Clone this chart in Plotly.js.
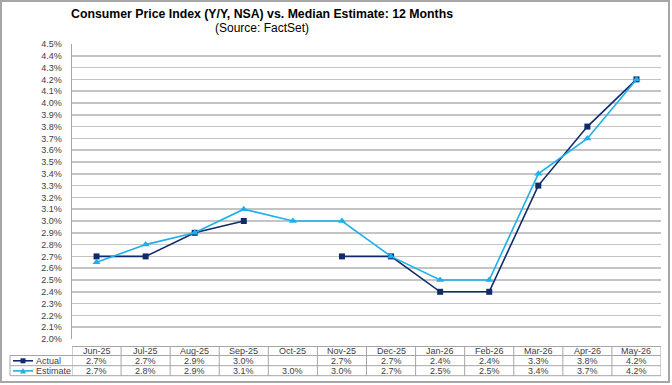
<!DOCTYPE html>
<html>
<head>
<meta charset="utf-8">
<script src="https://cdn.plot.ly/plotly-3.0.1.min.js"></script>
<style>
html,body{margin:0;padding:0;background:#fff;}
#chart{width:672px;height:385px;}
</style>
</head>
<body>
<div id="chart"></div>
<script>
// ---- data ----
const months = ["Jun-25","Jul-25","Aug-25","Sep-25","Oct-25","Nov-25","Dec-25","Jan-26","Feb-26","Mar-26","Apr-26","May-26"];
const actual = [2.7, 2.7, 2.9, 3.0, null, 2.7, 2.7, 2.4, 2.4, 3.3, 3.8, 4.2];
const estimate = [2.65, 2.8, 2.9, 3.1, 3.0, 3.0, 2.7, 2.5, 2.5, 3.4, 3.7, 4.2];
const actualTable = ["2.7%","2.7%","2.9%","3.0%","","2.7%","2.7%","2.4%","2.4%","3.3%","3.8%","4.2%"];
const estimateTable = ["2.7%","2.8%","2.9%","3.1%","3.0%","3.0%","2.7%","2.5%","2.5%","3.4%","3.7%","4.2%"];
const yTicks = [2.0,2.1,2.2,2.3,2.4,2.5,2.6,2.7,2.8,2.9,3.0,3.1,3.2,3.3,3.4,3.5,3.6,3.7,3.8,3.9,4.0,4.1,4.2,4.3,4.4,4.5];
const seriesNames = ["Actual","Estimate"];
const titleText = "Consumer Price Index (Y/Y, NSA) vs. Median Estimate: 12 Months";
const subtitleText = "(Source: FactSet)";

// ---- style ----
const navy = "#102a6b";
const cyan = "#1cb0ea";
const tblLine = "#a6a6a6";
const txt = "#404040";
const font = "Liberation Sans, Arial, sans-serif";

// plot area pixel geometry: left 72, right 661, top 44, bottom 339
const L = 72, R = 661, T = 44, B = 339;
const px = x => (x - L) / (R - L);
const py = y => (B - y) / (B - T);

const traces = [
  {x: months, y: actual, name: seriesNames[0], type: "scatter", mode: "lines+markers",
   connectgaps: false, line: {color: navy, width: 1.6},
   marker: {symbol: "square", size: 6, color: navy}},
  {x: months, y: estimate, name: seriesNames[1], type: "scatter", mode: "lines+markers",
   line: {color: cyan, width: 1.6},
   marker: {symbol: "triangle-up", size: 7, color: cyan}}
];

const shapes = [];
const annotations = [];

// outer border
shapes.push({type: "rect", xref: "paper", yref: "paper", x0: px(1), x1: px(669), y0: py(1), y1: py(382),
  line: {color: "#a6a6a6", width: 2}, layer: "below"});

// table geometry
const tTop = py(346.5), r1 = py(355.5), r2 = py(365.7), tBot = py(375.7);
const legL = px(10);
shapes.push({type: "line", xref: "x", yref: "paper", x0: -0.5, x1: months.length - 0.5, y0: tTop, y1: tTop, line: {color: tblLine, width: 1}});
[r1, r2, tBot].forEach(yy => {
  shapes.push({type: "line", xref: "paper", yref: "paper", x0: legL, x1: 1, y0: yy, y1: yy, line: {color: tblLine, width: 1}});
});
for (let i = 0; i <= months.length; i++) {
  shapes.push({type: "line", xref: "x", yref: "paper", x0: i - 0.5, x1: i - 0.5, y0: tTop, y1: tBot, line: {color: tblLine, width: 1}});
}
shapes.push({type: "line", xref: "paper", yref: "paper", x0: legL, x1: legL, y0: r1, y1: tBot, line: {color: tblLine, width: 1}});

// table text
const yHead = py(351.2), yA = py(360.8), yE = py(370.9);
months.forEach((m, i) => {
  annotations.push({x: m, y: yHead, xref: "x", yref: "paper", text: m, showarrow: false, font: {family: font, size: 9, color: txt}, yanchor: "middle"});
  annotations.push({x: m, y: yA, xref: "x", yref: "paper", text: actualTable[i], showarrow: false, font: {family: font, size: 9, color: txt}, yanchor: "middle"});
  annotations.push({x: m, y: yE, xref: "x", yref: "paper", text: estimateTable[i], showarrow: false, font: {family: font, size: 9, color: txt}, yanchor: "middle"});
});

// legend keys in table
const legendKeys = [
  {y: yA, color: navy, name: seriesNames[0], marker: "square"},
  {y: yE, color: cyan, name: seriesNames[1], marker: "tri"}
];
legendKeys.forEach(k => {
  shapes.push({type: "line", xref: "paper", yref: "paper", x0: px(13), x1: px(33), y0: k.y, y1: k.y, line: {color: k.color, width: 1.6}});
  const cx = 23, cy = B - k.y * (B - T);
  let path;
  if (k.marker === "square") {
    path = `M${px(cx-2.5)},${py(cy-2.5)} L${px(cx+2.5)},${py(cy-2.5)} L${px(cx+2.5)},${py(cy+2.5)} L${px(cx-2.5)},${py(cy+2.5)} Z`;
  } else {
    path = `M${px(cx)},${py(cy-3)} L${px(cx+3)},${py(cy+2.5)} L${px(cx-3)},${py(cy+2.5)} Z`;
  }
  shapes.push({type: "path", xref: "paper", yref: "paper", path: path, fillcolor: k.color, line: {color: k.color, width: 0}});
  annotations.push({x: px(34), y: k.y, xref: "paper", yref: "paper", text: k.name, showarrow: false, xanchor: "left", yanchor: "middle", font: {family: font, size: 9, color: txt}});
});

// title
annotations.push({x: px(261.5), y: py(14), xref: "paper", yref: "paper", text: "<b>" + titleText + "</b>", showarrow: false, xanchor: "center", yanchor: "middle", font: {family: font, size: 12.3, color: "#000"}});
annotations.push({x: px(261.5), y: py(27.5), xref: "paper", yref: "paper", text: subtitleText, showarrow: false, xanchor: "center", yanchor: "middle", font: {family: font, size: 12, color: "#000"}});

const layout = {
  width: 672, height: 385,
  margin: {l: L, r: 672 - R, t: T, b: 385 - B, pad: 0},
  paper_bgcolor: "#fff", plot_bgcolor: "#fff",
  showlegend: false,
  xaxis: {type: "category", range: [-0.5, months.length - 0.5], showticklabels: false, showgrid: false, zeroline: false, showline: false, ticks: "", fixedrange: true},
  yaxis: {range: [2.0, 4.5], tickvals: yTicks, ticktext: yTicks.map(v => v.toFixed(1) + "%"),
          showgrid: true, gridcolor: "#c4c4c4", gridwidth: 1.5, zeroline: false,
          showline: true, linecolor: "#a6a6a6", linewidth: 1.5, ticks: "", ticklabelstandoff: 7,
          tickfont: {family: font, size: 9, color: txt}, fixedrange: true},
  shapes: shapes,
  annotations: annotations
};

Plotly.newPlot("chart", traces, layout, {displayModeBar: false, staticPlot: true});
</script>
</body>
</html>
